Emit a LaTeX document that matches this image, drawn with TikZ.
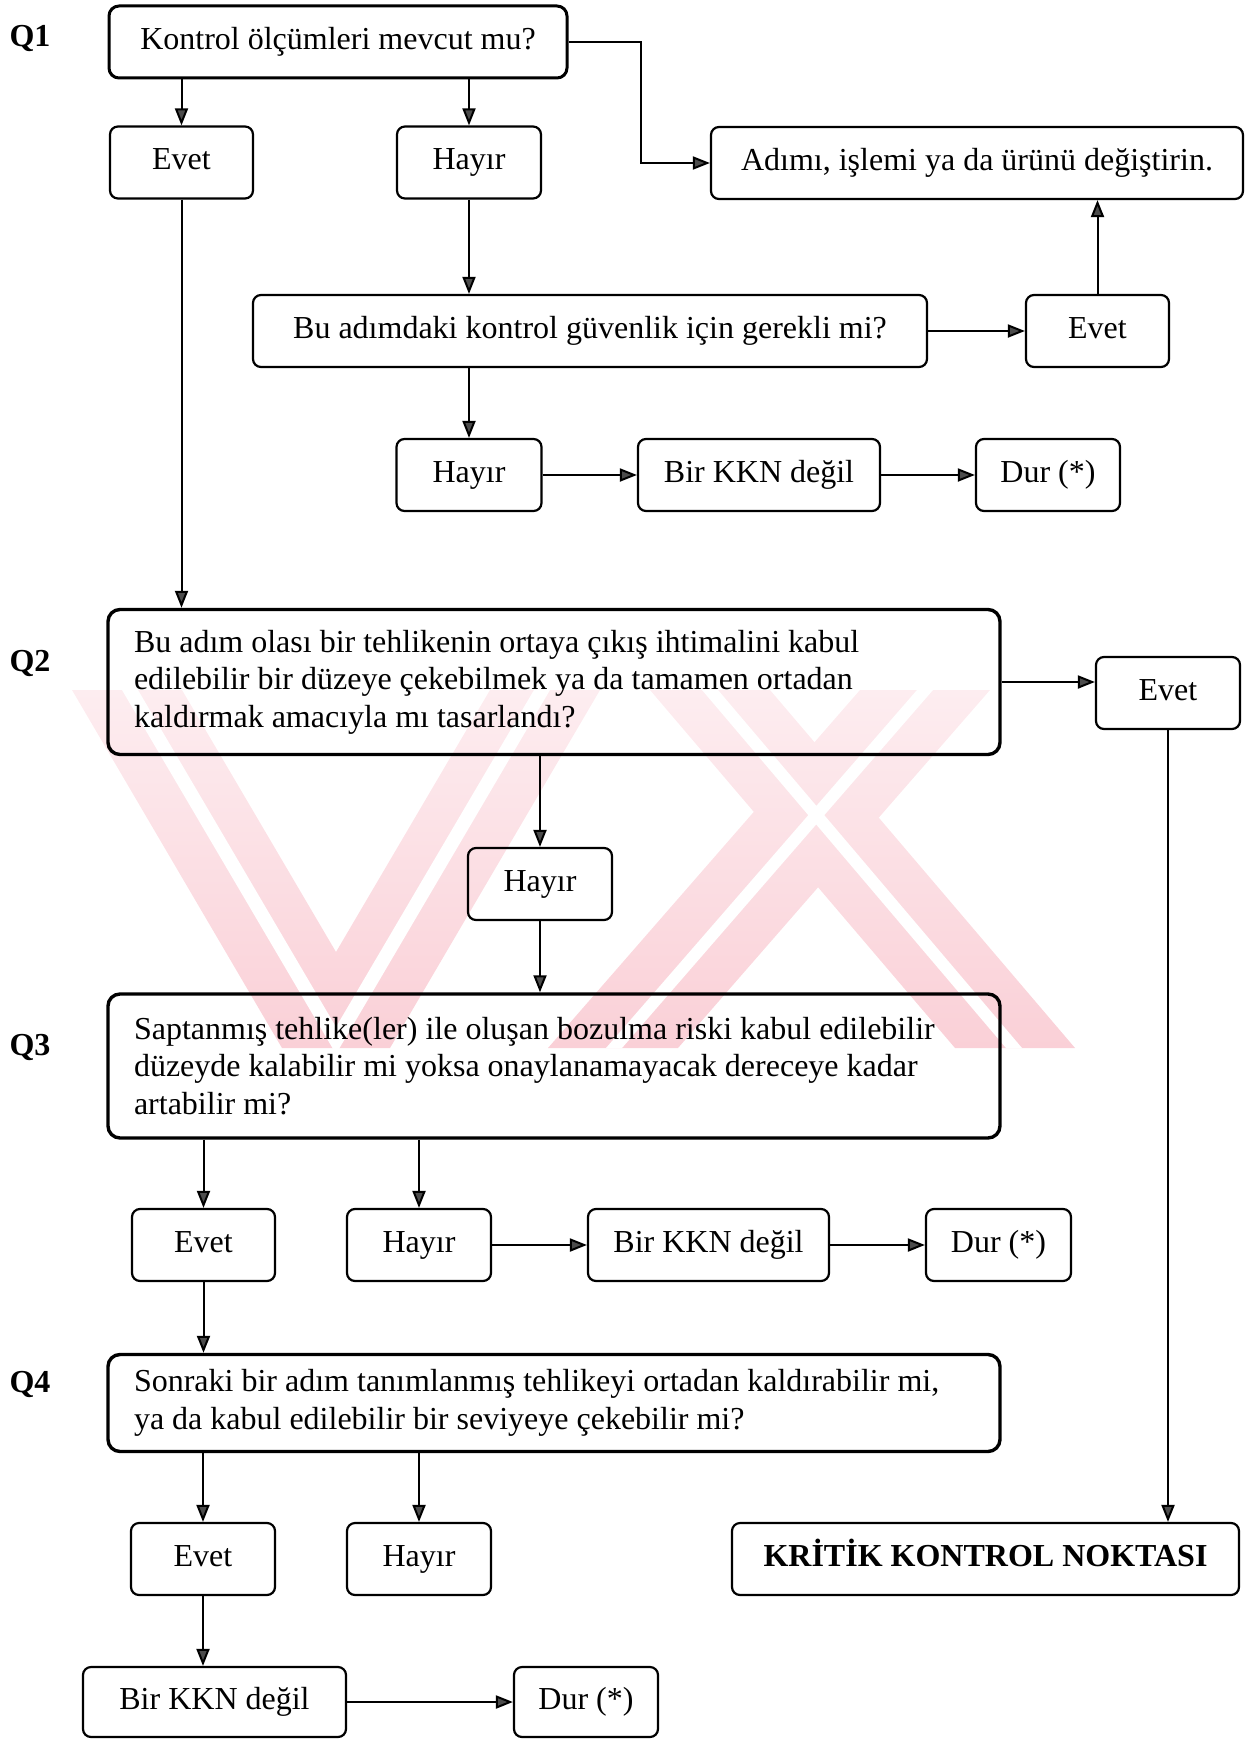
\documentclass[tikz,border=0pt]{standalone}
\usepackage{fontspec}
\setmainfont{Liberation Serif}
\usetikzlibrary{arrows.meta}
\definecolor{wmtop}{RGB}{253,237,240}
\definecolor{wmbot}{RGB}{250,208,215}
\begin{document}
\begin{tikzpicture}[x=1pt,y=-1pt,
  txt/.style={font=\fontsize{32}{37.6}\selectfont},
  box/.style={txt, draw, line width=2.2pt, rounded corners=8pt,
    minimum height=72pt, inner sep=0pt, align=center,
    text height=23pt, text depth=8pt},
  qbox/.style={txt, draw, line width=3.4pt, rounded corners=12pt,
    inner xsep=26pt, inner ysep=0pt, text width=840pt, align=left,
    execute at begin node={\spaceskip=0pt\xspaceskip=0pt\relax}},
  qlab/.style={font=\fontsize{32}{37.6}\selectfont\bfseries},
  arr/.style={line width=2pt, -{Triangle[length=17pt,width=13pt,fill=black!70]}},
  logo/.style={top color=wmtop, bottom color=wmbot, draw=none},
  gap/.style={fill=white, draw=none}
]
\useasboundingbox (0,0) rectangle (1258,1739);

% background logo: striped chevron and cross
\shade[logo] (72,690) -- (182,690) -- (336,952) -- (490,690) -- (600,690)
  -- (390,1048) -- (282,1048) -- cycle;
\fill[gap] (122,690) -- (138,690) -- (336,1027) -- (534,690) -- (550,690)
  -- (336,1054) -- cycle;
\shade[logo] (548,1048) -- (678,1048) -- (990,690) -- (860,690) -- cycle;
\shade[logo] (650,690) -- (770,690) -- (1075,1048) -- (955,1048) -- cycle;
\fill[gap] (606,1048) -- (622,1048) -- (933,690) -- (917,690) -- cycle;
\fill[gap] (702,690) -- (718,690) -- (1022,1048) -- (1006,1048) -- cycle;

% question labels
\node[qlab] (l1) at (30,39) {Q1};
\node[qlab] (l2) at (30,663) {Q2};
\node[qlab] (l3) at (30,1047) {Q3};
\node[qlab] (l4) at (30,1384) {Q4};

% Q1 block
\node[box, line width=3pt, rounded corners=10pt, minimum width=458pt] (q1) at (338,42) {Kontrol ölçümleri mevcut mu?};
\node[box, minimum width=143pt] (evet1) at (181.5,162.5) {Evet};
\node[box, minimum width=144pt] (hayir1) at (469,162.5) {Hayır};
\node[box, minimum width=532pt] (adim) at (977,163) {Adımı, işlemi ya da ürünü değiştirin.};
\node[box, minimum width=674pt] (gerek) at (590,331) {Bu adımdaki kontrol güvenlik için gerekli mi?};
\node[box, minimum width=143pt] (evet2) at (1097.5,331) {Evet};
\node[box, minimum width=145pt] (hayir2) at (469,475) {Hayır};
\node[box, minimum width=242pt] (kkn1) at (759,475) {Bir KKN değil};
\node[box, minimum width=144pt] (dur1) at (1048,475) {Dur (*)};

% Q2 block
\node[qbox, minimum height=145pt] (q2) at (554,682) {Bu adım olası bir tehlikenin ortaya çıkış ihtimalini kabul\\
edilebilir bir düzeye çekebilmek ya da tamamen ortadan\\
kaldırmak amacıyla mı tasarlandı?};
\node[box, minimum width=144pt] (evet3) at (1168,693) {Evet};
\node[box, minimum width=144pt] (hayir3) at (540,884) {Hayır};

% Q3 block
\node[qbox, minimum height=144pt] (q3) at (554,1066) {Saptanmış tehlike(ler) ile oluşan bozulma riski kabul edilebilir\\
düzeyde kalabilir mi yoksa onaylanamayacak dereceye kadar\\
artabilir mi?};
\node[box, minimum width=143pt] (evet4) at (203.5,1245) {Evet};
\node[box, minimum width=144pt] (hayir4) at (419,1245) {Hayır};
\node[box, minimum width=241pt] (kkn2) at (708.5,1245) {Bir KKN değil};
\node[box, minimum width=145pt] (dur2) at (998.5,1245) {Dur (*)};

% Q4 block
\node[qbox, minimum height=97pt] (q4) at (554,1403) {Sonraki bir adım tanımlanmış tehlikeyi ortadan kaldırabilir mi,\\
ya da kabul edilebilir bir seviyeye çekebilir mi?};
\node[box, minimum width=144pt] (evet5) at (203,1559) {Evet};
\node[box, minimum width=144pt] (hayir5) at (419,1559) {Hayır};
\node[box, minimum width=507pt, font=\fontsize{32}{37.6}\selectfont\bfseries] (kkp) at (985.5,1559) {KRİTİK KONTROL NOKTASI};
\node[box, minimum width=263pt, minimum height=70pt] (kkn3) at (214.5,1702) {Bir KKN değil};
\node[box, minimum width=144pt, minimum height=70pt] (dur3) at (586,1702) {Dur (*)};

% connectors
\draw[arr] (q1.south -| evet1) -- (evet1.north);
\draw[arr] (q1.south -| hayir1) -- (hayir1.north);
\draw[arr] (q1.east) -- ++(72,0) |- (adim.west);
\draw[arr] (hayir1.south) -- (hayir1.south |- gerek.north);
\draw[arr] (gerek.east) -- (evet2.west);
\draw[arr] (evet2.north) -- (evet2.north |- adim.south);
\draw[arr] (gerek.south -| hayir2) -- (hayir2.north);
\draw[arr] (hayir2.east) -- (kkn1.west);
\draw[arr] (kkn1.east) -- (dur1.west);
\draw[arr] (evet1.south) -- (evet1.south |- q2.north);
\draw[arr] (q2.east) -- (q2.east -| evet3.west);
\draw[arr] (q2.south -| hayir3) -- (hayir3.north);
\draw[arr] (hayir3.south) -- (hayir3.south |- q3.north);
\draw[arr] (q3.south -| evet4) -- (evet4.north);
\draw[arr] (q3.south -| hayir4) -- (hayir4.north);
\draw[arr] (hayir4.east) -- (kkn2.west);
\draw[arr] (kkn2.east) -- (dur2.west);
\draw[arr] (evet4.south) -- (evet4.south |- q4.north);
\draw[arr] (q4.south -| evet5) -- (evet5.north);
\draw[arr] (q4.south -| hayir5) -- (hayir5.north);
\draw[arr] (evet3.south) -- (evet3.south |- kkp.north);
\draw[arr] (evet5.south) -- (evet5.south |- kkn3.north);
\draw[arr] (kkn3.east) -- (dur3.west);
\end{tikzpicture}
\end{document}
